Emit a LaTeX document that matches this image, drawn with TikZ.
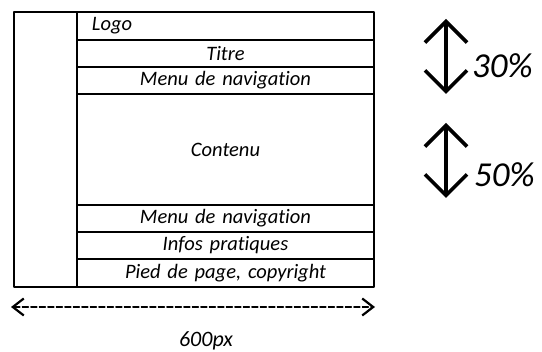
\documentclass[tikz,border=0pt]{standalone}
\usepackage{fontspec}
\setmainfont{Carlito}[Ligatures=NoCommon]
\usetikzlibrary{arrows.meta,positioning}

\begin{document}
\begin{tikzpicture}[line cap=round,line join=round,x=1pt,y=-1pt,
  frame/.style={draw,line width=1.3pt,inner sep=0pt,outer sep=0pt},
  row/.style={frame,text width=267pt,inner xsep=15pt,align=center,
    font=\fontsize{20.5}{24}\selectfont\itshape},
  big/.style={line width=3.6pt,{Straight Barb[length=21pt,width=42pt]}-{Straight Barb[length=21pt,width=42pt]}},
  pct/.style={anchor=west,inner sep=0pt,font=\fontsize{35}{40}\selectfont\itshape}]
\useasboundingbox (0,0) rectangle (542,352);
% page layout
\node[frame,minimum width=63pt,minimum height=275pt,anchor=north west] (side) at (14,12) {};
\node[row,minimum height=28pt,align=left,anchor=north west] (logo) at (side.north east) {Logo};
\node[row,minimum height=27pt,below=0pt of logo] (titre) {Titre};
\node[row,minimum height=27pt,below=0pt of titre] (menuA) {Menu de navigation};
\node[row,minimum height=111pt,below=0pt of menuA] (contenu) {Contenu};
\node[row,minimum height=27pt,below=0pt of contenu] (menuB) {Menu de navigation};
\node[row,minimum height=27pt,below=0pt of menuB] (infos) {Infos pratiques};
\node[row,minimum height=28pt,below=0pt of infos] (pied) {Pied de page, copyright};
% width
\coordinate (wl) at (11,307);
\coordinate (wr) at (375,307);
\draw[line width=1.3pt,dash pattern=on 6pt off 2.5pt,{Straight Barb[length=11pt,width=17pt,line width=2.2pt]}-{Straight Barb[length=11pt,width=17pt,line width=2.2pt]}] (wl) -- (wr);
\node[font=\fontsize{22}{26}\selectfont\itshape] (px) at (206,341) {600px};
% heights
\coordinate (hAt) at (446,19);
\coordinate (hAb) at (446,94);
\draw[big] (hAt) -- (hAb);
\node[pct] (p30) at (472,66) {30\%};
\coordinate (hBt) at (446,123);
\coordinate (hBb) at (446,198);
\draw[big] (hBt) -- (hBb);
\node[pct] (p50) at (474,175) {50\%};
\end{tikzpicture}
\end{document}
